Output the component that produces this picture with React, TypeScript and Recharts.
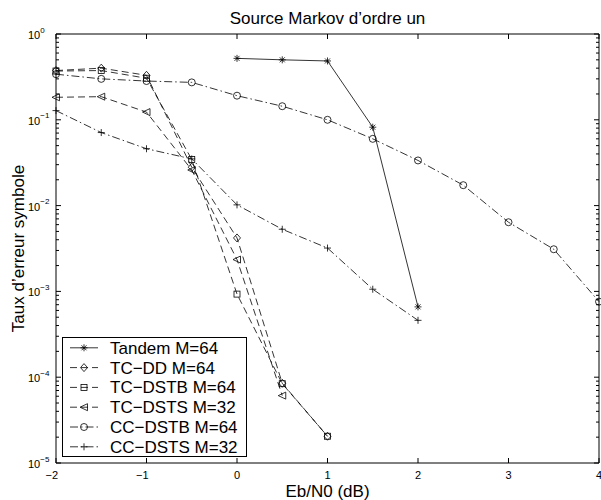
import React from "react";
import { LineChart, Line, XAxis, YAxis, ReferenceLine } from "recharts";

// Eb/N0 (dB) abscissae
const ebn0 = [-2, -1.5, -1, -0.5, 0, 0.5, 1, 1.5, 2, 2.5, 3, 3.5, 4];

// symbol error rates
const tandem = [0.52, 0.5, 0.485, 0.082, 6.6e-4]; // from 0 dB
const tcDd = [0.375, 0.4, 0.33, 0.028, 4.2e-3, 8.5e-5, 2.05e-5]; // from -2 dB
const tcDstb = [0.37, 0.375, 0.305, 0.0345, 9.3e-4, 8.4e-5, 2.05e-5]; // from -2 dB
const tcDsts = [0.183, 0.186, 0.123, 0.026, 2.35e-3, 6.1e-5]; // from -2 dB
const ccDstb = [0.34, 0.3, 0.283, 0.273, 0.191, 0.144, 0.1, 0.06, 0.0336, 0.0173, 0.0064, 0.0031, 7.6e-4];
const ccDsts = [0.128, 0.071, 0.046, 0.035, 0.0102, 0.0053, 0.0032, 0.00106, 4.6e-4];

const xTicks = [-2, -1, 0, 1, 2, 3, 4];
const xTickLabels = ["−2", "−1", "0", "1", "2", "3", "4"];
const decades = [1e-5, 1e-4, 1e-3, 1e-2, 1e-1, 1];
const decadeExps = ["−5", "−4", "−3", "−2", "−1", "0"];

const FONT = '"Liberation Sans", Arial, Helvetica, sans-serif';

const W = 601;
const H = 500;
const M = { top: 34, right: 2, bottom: 0, left: 0 };
const X_AXIS_H = 37;
const Y_AXIS_W = 56;
const GAP = 8; // default tickSize + tickMargin

// major + minor ticks of the log axis
const yTicks: number[] = [];
decades.forEach((d, i) => {
  if (i === decades.length - 1) {
    yTicks.push(d);
    return;
  }
  for (let m = 1; m <= 9; m++) yTicks.push(+(d * m).toPrecision(3));
});

function toPoints(start: number, ys: number[]) {
  const i0 = ebn0.indexOf(start);
  return ys.map((y, i) => ({ x: ebn0[i0 + i], y }));
}

const series = [
  { name: "Tandem M=64", shape: "star", dash: undefined, data: toPoints(0, tandem) },
  { name: "TC−DD M=64", shape: "diamond", dash: "7 4", data: toPoints(-2, tcDd) },
  { name: "TC−DSTB M=64", shape: "square", dash: "7 4", data: toPoints(-2, tcDstb) },
  { name: "TC−DSTS M=32", shape: "triangle", dash: "7 4", data: toPoints(-2, tcDsts) },
  { name: "CC−DSTB M=64", shape: "circle", dash: "8 3 1.5 3", data: toPoints(-2, ccDstb) },
  { name: "CC−DSTS M=32", shape: "plus", dash: "8 3 1.5 3", data: toPoints(-2, ccDsts) },
];

const isDecade = (v: number) => decades.findIndex((d) => Math.abs(d - v) / d < 1e-6);

function Marker({ cx, cy, shape }: { cx?: number; cy?: number; shape: string }) {
  if (cx == null || cy == null) return null;
  const st = { fill: "none", stroke: "#000", strokeWidth: 0.8 };
  const r = 3.5;
  switch (shape) {
    case "star":
      return (
        <g {...st}>
          <line x1={cx - r} y1={cy} x2={cx + r} y2={cy} />
          <line x1={cx} y1={cy - r} x2={cx} y2={cy + r} />
          <line x1={cx - 2.5} y1={cy - 2.5} x2={cx + 2.5} y2={cy + 2.5} />
          <line x1={cx - 2.5} y1={cy + 2.5} x2={cx + 2.5} y2={cy - 2.5} />
        </g>
      );
    case "diamond":
      return <polygon {...st} points={`${cx},${cy - 4} ${cx + 3.5},${cy} ${cx},${cy + 4} ${cx - 3.5},${cy}`} />;
    case "square":
      return <rect {...st} x={cx - 3} y={cy - 3} width={6} height={6} />;
    case "triangle":
      return <polygon {...st} points={`${cx - 4},${cy} ${cx + 3.5},${cy - 3.5} ${cx + 3.5},${cy + 3.5}`} />;
    case "circle":
      return <circle {...st} cx={cx} cy={cy} r={r} />;
    case "plus":
      return (
        <g {...st}>
          <line x1={cx - r} y1={cy} x2={cx + r} y2={cy} />
          <line x1={cx} y1={cy - r} x2={cx} y2={cy + r} />
        </g>
      );
  }
  return null;
}

// tick labels only; marks come from reference lines
function XTick(props: any) {
  const { x, y, payload } = props;
  const label = xTickLabels[xTicks.indexOf(payload.value)];
  const neg = payload.value < 0;
  return (
    <text x={neg ? x + 2 : x} y={y - GAP + 16} textAnchor={neg ? "end" : "middle"} fontSize={11} fontFamily={FONT} fill="#000" stroke="none">
      {label}
    </text>
  );
}

function YTick(props: any) {
  const { x, y, payload } = props;
  const di = isDecade(payload.value);
  if (di < 0) return <g />;
  return (
    <text x={x + GAP - 28} y={y + 5} fontSize={11} fontFamily={FONT} fill="#000" stroke="none" textAnchor="start">
      10
      <tspan dy={-6.5} fontSize={8}>
        {decadeExps[di]}
      </tspan>
    </text>
  );
}

// short inward marks at both ends of a reference line
function TickPair(p: any, len: number) {
  const { x1, y1, x2, y2 } = p;
  if ([x1, y1, x2, y2].some((v) => v == null || isNaN(v))) return <g />;
  const vertical = Math.abs(x1 - x2) < 0.01;
  const s = { stroke: "#000", strokeWidth: 1, fill: "none" };
  if (vertical) {
    const top = Math.min(y1, y2);
    const bot = Math.max(y1, y2);
    return (
      <g>
        <line x1={x1} y1={top} x2={x1} y2={top + len} {...s} />
        <line x1={x1} y1={bot} x2={x1} y2={bot - len} {...s} />
      </g>
    );
  }
  const left = Math.min(x1, x2);
  const right = Math.max(x1, x2);
  return (
    <g>
      <line x1={left} y1={y1} x2={left + len} y2={y1} {...s} />
      <line x1={right} y1={y1} x2={right - len} y2={y1} {...s} />
    </g>
  );
}

function Overlay() {
  const cx = M.left + Y_AXIS_W + (W - M.left - M.right - Y_AXIS_W) / 2;
  const cy = M.top + (H - M.top - M.bottom - X_AXIS_H) / 2;
  return (
    <svg width={W} height={H} style={{ position: "absolute", left: 0, top: 0, pointerEvents: "none" }}>
      <g fontFamily={FONT} fontSize={17} fill="#000">
        <text x={cx} y={24} textAnchor="middle">
          Source Markov d’ordre un
        </text>
        <text x={cx} y={497} textAnchor="middle">
          Eb/N0 (dB)
        </text>
        <text x={24} y={cy} transform={`rotate(-90 24 ${cy})`} textAnchor="middle">
          Taux d’erreur symbole
        </text>
      </g>
    </svg>
  );
}

function LegendBox() {
  return (
    <div
      style={{
        position: "absolute",
        left: 62,
        top: 337,
        boxSizing: "border-box",
        width: 185,
        height: 120,
        border: "1px solid #000",
        background: "#fff",
      }}
    >
      <svg width={183} height={118} style={{ display: "block" }}>
        {series.map((s, i) => {
          const cy = 9.8 + i * 19.8;
          return (
            <g key={s.name}>
              <line x1={7} y1={cy} x2={35} y2={cy} stroke="#000" strokeWidth={0.8} strokeDasharray={s.dash} />
              <Marker cx={21} cy={cy} shape={s.shape} />
              <text x={47} y={cy + 6} fontSize={17} fontFamily={FONT} fill="#000">
                {s.name}
              </text>
            </g>
          );
        })}
      </svg>
    </div>
  );
}

export default function App() {
  return (
    <div style={{ position: "absolute", left: 0, top: 0, width: W, height: H, background: "#fff" }}>
      <LineChart width={W} height={H} margin={M}>
        <XAxis
          xAxisId="b"
          type="number"
          dataKey="x"
          domain={[-2, 4]}
          ticks={xTicks}
          interval={0}
          height={X_AXIS_H}
          stroke="none"
          tick={(p: any) => <XTick {...p} />}
        />
        <YAxis
          yAxisId="l"
          type="number"
          scale="log"
          domain={[1e-5, 1]}
          ticks={yTicks}
          interval={0}
          width={Y_AXIS_W}
          stroke="none"
          allowDataOverflow
          tick={(p: any) => <YTick {...p} />}
        />
        {/* box */}
        <ReferenceLine xAxisId="b" yAxisId="l" x={-2} stroke="#000" strokeWidth={1} ifOverflow="visible" />
        <ReferenceLine xAxisId="b" yAxisId="l" x={4} stroke="#000" strokeWidth={1} ifOverflow="visible" />
        <ReferenceLine xAxisId="b" yAxisId="l" y={1} stroke="#000" strokeWidth={1} ifOverflow="visible" />
        <ReferenceLine xAxisId="b" yAxisId="l" y={1e-5} stroke="#000" strokeWidth={1} ifOverflow="visible" />
        {/* inward tick marks */}
        {xTicks.map((v) => (
          <ReferenceLine key={`xt${v}`} xAxisId="b" yAxisId="l" x={v} ifOverflow="visible" shape={(p: any) => TickPair(p, 5)} />
        ))}
        {yTicks.map((v) => (
          <ReferenceLine
            key={`yt${v}`}
            xAxisId="b"
            yAxisId="l"
            y={v}
            ifOverflow="visible"
            shape={(p: any) => TickPair(p, isDecade(v) >= 0 ? 5 : 3)}
          />
        ))}
        {series.map((s) => (
          <Line
            key={s.name}
            xAxisId="b"
            yAxisId="l"
            data={s.data}
            dataKey="y"
            name={s.name}
            stroke="#000"
            strokeWidth={0.8}
            strokeDasharray={s.dash}
            isAnimationActive={false}
            dot={(p: any) => <Marker key={`${s.name}-${p.index}`} cx={p.cx} cy={p.cy} shape={s.shape} />}
            activeDot={false}
          />
        ))}
      </LineChart>
      <Overlay />
      <LegendBox />
    </div>
  );
}
